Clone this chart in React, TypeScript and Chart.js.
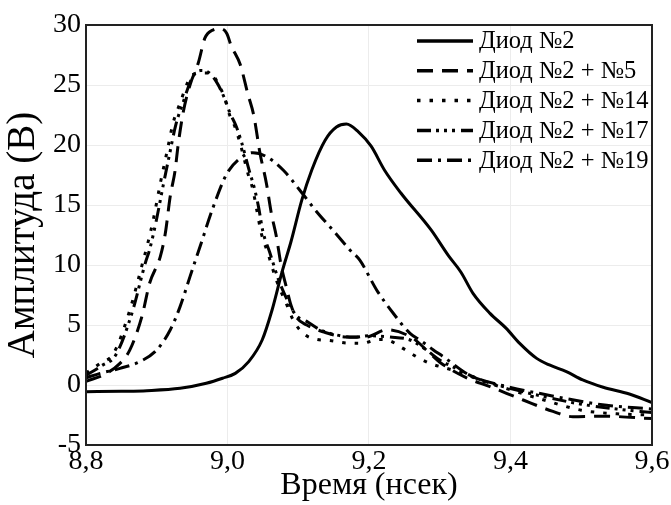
import React, { useEffect, useRef } from "react";
import { Chart, registerables } from "chart.js";

Chart.register(...registerables);

const seriesLabels = [
  "Диод №2",
  "Диод №2 + №5",
  "Диод №2 + №14",
  "Диод №2 + №17",
  "Диод №2 + №19",
];

const xTitle = "Время (нсек)";
const yTitle = "Амплитуда (В)";

// Диод №2
const x2 = [8.8, 8.85, 8.886, 8.933, 8.97, 8.993, 9.011, 9.03, 9.049, 9.063, 9.077, 9.09, 9.105, 9.119, 9.138, 9.154, 9.168, 9.185, 9.203, 9.222, 9.245, 9.288, 9.312, 9.33, 9.347, 9.371, 9.394, 9.413, 9.437, 9.455, 9.479, 9.502, 9.531, 9.568, 9.6];
const y2 = [-0.56, -0.52, -0.47, -0.28, 0.14, 0.56, 0.97, 1.95, 3.75, 6.25, 9.4, 12.0, 15.4, 17.9, 20.4, 21.5, 21.75, 21.1, 19.9, 17.9, 16.0, 12.9, 10.8, 9.4, 7.64, 5.97, 4.72, 3.47, 2.22, 1.67, 1.11, 0.42, -0.19, -0.75, -1.47];

// Диод №2 + №5
const x5 = [8.8, 8.829, 8.848, 8.862, 8.879, 8.89, 8.905, 8.912, 8.919, 8.926, 8.93, 8.937, 8.947, 8.959, 8.968, 8.98, 8.99, 8.999, 9.005, 9.018, 9.029, 9.037, 9.046, 9.055, 9.062, 9.069, 9.076, 9.083, 9.09, 9.098, 9.112, 9.135, 9.168, 9.196, 9.225, 9.262, 9.286, 9.3, 9.338, 9.371, 9.418, 9.46, 9.488, 9.531, 9.6];
const y5 = [0.3, 0.97, 1.8, 2.92, 5.7, 8.5, 10.7, 12.6, 15.7, 17.9, 19.9, 22.6, 25.0, 26.9, 28.9, 29.6, 29.7, 29.3, 28.3, 26.7, 24.2, 22.5, 19.3, 16.8, 14.3, 12.4, 9.9, 8.2, 6.6, 5.6, 5.0, 4.44, 4.0, 4.0, 4.6, 3.9, 2.64, 1.9, 0.6, -0.14, -1.25, -2.2, -2.64, -2.6, -2.8];

// Диод №2 + №14
const x14 = [8.8, 8.82, 8.839, 8.862, 8.881, 8.886, 8.895, 8.905, 8.914, 8.923, 8.933, 8.947, 8.959, 8.975, 8.987, 8.996, 9.003, 9.01, 9.018, 9.029, 9.036, 9.041, 9.048, 9.057, 9.069, 9.083, 9.093, 9.107, 9.126, 9.145, 9.168, 9.189, 9.215, 9.229, 9.248, 9.267, 9.286, 9.309, 9.333, 9.356, 9.4, 9.45, 9.5, 9.55, 9.6];
const y14 = [1.0, 1.8, 2.64, 6.25, 10.4, 11.5, 13.75, 16.8, 19.3, 21.8, 23.5, 25.6, 26.0, 26.0, 25.1, 23.9, 22.5, 21.6, 20.1, 17.6, 16.25, 14.7, 12.6, 11.0, 8.75, 6.8, 5.4, 4.3, 3.8, 3.7, 3.5, 3.47, 3.8, 3.7, 3.05, 2.36, 1.8, 1.4, 0.97, 0.42, -0.4, -1.3, -2.1, -2.4, -2.5];

// Диод №2 + №17
const x17 = [8.8, 8.822, 8.842, 8.865, 8.884, 8.89, 8.899, 8.909, 8.918, 8.927, 8.937, 8.95, 8.962, 8.972, 8.985, 8.995, 9.004, 9.012, 9.02, 9.031, 9.038, 9.044, 9.05, 9.06, 9.072, 9.086, 9.097, 9.112, 9.131, 9.154, 9.178, 9.201, 9.23, 9.258, 9.281, 9.3, 9.328, 9.352, 9.4, 9.45, 9.5, 9.55, 9.6];
const y17 = [0.8, 1.6, 2.5, 6.0, 10.2, 11.3, 13.6, 16.6, 19.2, 21.7, 23.5, 25.6, 26.2, 26.1, 25.2, 24.0, 22.6, 21.6, 20.2, 17.8, 16.4, 14.8, 12.8, 11.0, 8.8, 6.9, 5.8, 5.3, 4.6, 4.17, 3.97, 4.1, 4.0, 3.75, 2.92, 2.08, 1.25, 0.56, -0.3, -1.0, -1.6, -2.0, -2.3];

// Диод №2 + №19
const x19 = [8.8, 8.82, 8.848, 8.876, 8.9, 8.919, 8.933, 8.947, 8.961, 8.98, 8.999, 9.018, 9.036, 9.055, 9.079, 9.102, 9.126, 9.149, 9.173, 9.187, 9.211, 9.234, 9.258, 9.272, 9.291, 9.305, 9.342, 9.4, 9.44, 9.533, 9.6];
const y19 = [0.6, 0.97, 1.39, 1.94, 2.92, 4.58, 6.53, 9.03, 11.5, 14.86, 17.6, 18.9, 19.36, 19.03, 17.9, 16.25, 14.44, 12.9, 11.25, 10.4, 7.9, 6.0, 4.3, 3.75, 2.92, 2.36, 0.83, -0.2, -0.69, -1.67, -2.0];

const seriesX = [x2, x5, x14, x17, x19];
const seriesY = [y2, y5, y14, y17, y19];
const dashes: number[][] = [
  [],
  [16, 9],
  [3.5, 9],
  [14, 5, 3, 5, 3, 5, 3, 6],
  [15, 6, 3, 6],
];

const FONT = "'Liberation Serif', 'Times New Roman', serif";

const framePlugin = {
  id: "frame",
  afterDatasetsDraw(chart: any) {
    const { ctx, chartArea } = chart;
    ctx.save();
    ctx.strokeStyle = "#222";
    ctx.lineWidth = 2;
    ctx.setLineDash([]);
    ctx.strokeRect(chartArea.left, chartArea.top, chartArea.right - chartArea.left, chartArea.bottom - chartArea.top);
    ctx.restore();
  },
};

const legendPlugin = {
  id: "innerLegend",
  afterDraw(chart: any) {
    const { ctx } = chart;
    ctx.save();
    const x0 = 417;
    const len = 56;
    const tx = 479;
    const y0 = 41;
    const dy = 29.8;
    chart.data.datasets.forEach((ds: any, i: number) => {
      const y = y0 + i * dy;
      ctx.strokeStyle = "#000";
      ctx.lineWidth = 3.5;
      ctx.setLineDash(ds.borderDash || []);
      ctx.beginPath();
      ctx.moveTo(x0, y);
      ctx.lineTo(x0 + len, y);
      ctx.stroke();
      ctx.setLineDash([]);
      ctx.fillStyle = "#000";
      ctx.font = `24.5px ${FONT}`;
      ctx.textBaseline = "middle";
      ctx.textAlign = "left";
      ctx.fillText(ds.label, tx, y + 1);
    });
    ctx.restore();
  },
};

export default function App() {
  const ref = useRef<HTMLCanvasElement | null>(null);
  useEffect(() => {
    if (!ref.current) return;
    const datasets = seriesLabels.map((label, i) => ({
      label,
      data: seriesX[i].map((x, j) => ({ x, y: seriesY[i][j] })),
      borderColor: "#000",
      backgroundColor: "#000",
      borderWidth: 3,
      borderDash: dashes[i],
      pointRadius: 0,
      cubicInterpolationMode: "monotone" as const,
      fill: false,
    }));
    const chart = new Chart(ref.current, {
      type: "line",
      data: { datasets },
      options: {
        animation: false,
        responsive: false,
        devicePixelRatio: 1,
        layout: { padding: { left: 0, right: 19, top: 25, bottom: 0 } },
        plugins: { legend: { display: false }, tooltip: { enabled: false } },
        scales: {
          x: {
            type: "linear",
            min: 8.8,
            max: 9.6,
            ticks: {
              stepSize: 0.2,
              color: "#000",
              font: { family: FONT, size: 28 },
              padding: 0,
              maxRotation: 0,
              callback: (v: any) => Number(v).toFixed(1).replace(".", ","),
            },
            grid: { color: "#ececec", lineWidth: 1, drawTicks: false },
            border: { display: false },
            title: { display: true, text: xTitle, color: "#000", font: { family: FONT, size: 32 }, padding: { top: -8, bottom: 0 } },
            afterFit: (s: any) => { s.height = 60; },
          },
          y: {
            type: "linear",
            min: -5,
            max: 30,
            ticks: {
              stepSize: 5,
              color: "#000",
              font: { family: FONT, size: 28 },
              padding: 5,
            },
            grid: { color: "#ececec", lineWidth: 1, drawTicks: false },
            border: { display: false },
            title: { display: true, text: yTitle, color: "#000", font: { family: FONT, size: 39 }, padding: 0 },
            afterFit: (s: any) => { s.width = 86; },
          },
        },
      },
      plugins: [framePlugin, legendPlugin],
    });
    return () => chart.destroy();
  }, []);
  return (
    <div style={{ position: "fixed", left: 0, top: 0, width: 671, height: 505, background: "#fff" }}>
      <canvas ref={ref} width={671} height={505} style={{ display: "block" }} />
    </div>
  );
}
